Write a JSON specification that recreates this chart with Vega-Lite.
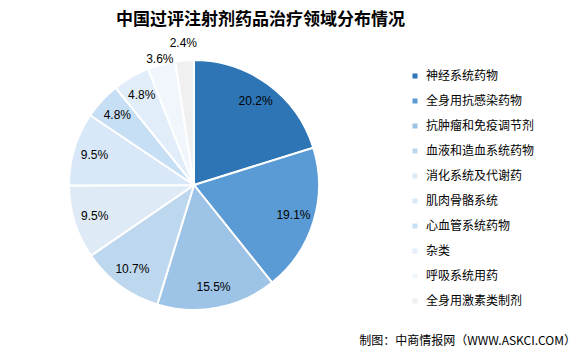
{
  "$schema": "https://vega.github.io/schema/vega-lite/v6.json",
  "background": "white",
  "padding": {"left": 65, "top": 11, "right": 8, "bottom": 8},
  "title": {
    "text": "制图：中商情报网（WWW.ASKCI.COM）",
    "orient": "bottom",
    "anchor": "end",
    "font": "Noto Sans CJK SC",
    "fontSize": 12,
    "fontWeight": "normal",
    "color": "#000000",
    "dx": 41,
    "offset": 22
  },
  "data": {
    "values": [
      {"name": "神经系统药物", "pct": 0.202, "rank": 1},
      {"name": "全身用抗感染药物", "pct": 0.191, "rank": 2},
      {"name": "抗肿瘤和免疫调节剂", "pct": 0.155, "rank": 3},
      {"name": "血液和造血系统药物", "pct": 0.107, "rank": 4},
      {"name": "消化系统及代谢药", "pct": 0.095, "rank": 5},
      {"name": "肌肉骨骼系统", "pct": 0.095, "rank": 6},
      {"name": "心血管系统药物", "pct": 0.048, "rank": 7},
      {"name": "杂类", "pct": 0.048, "rank": 8},
      {"name": "呼吸系统用药", "pct": 0.036, "rank": 9},
      {"name": "全身用激素类制剂", "pct": 0.024, "rank": 10}
    ]
  },
  "vconcat": [
    {
      "width": 250,
      "height": 250,
      "title": {
        "text": "中国过评注射剂药品治疗领域分布情况",
        "font": "Noto Sans CJK SC",
        "fontSize": 17,
        "fontWeight": "bold",
        "color": "#000000",
        "anchor": "start",
        "frame": "group",
        "dx": 47,
        "offset": 8
      },
      "encoding": {
        "theta": {"field": "pct", "type": "quantitative", "stack": true},
        "order": {"field": "rank", "type": "quantitative"}
      },
      "layer": [
        {
          "mark": {"type": "arc", "outerRadius": 125, "stroke": "white", "strokeWidth": 2},
          "encoding": {
            "color": {
              "field": "name",
              "type": "nominal",
              "sort": null,
              "scale": {
                "domain": ["神经系统药物", "全身用抗感染药物", "抗肿瘤和免疫调节剂", "血液和造血系统药物", "消化系统及代谢药", "肌肉骨骼系统", "心血管系统药物", "杂类", "呼吸系统用药", "全身用激素类制剂"],
                "range": ["#2E75B6", "#5B9BD5", "#9DC3E6", "#BDD7EE", "#DEEAF6", "#D9E8F8", "#C6DFF5", "#E1EEFA", "#F0F6FC", "#F0F0F0"]
              },
              "legend": {
                "title": null,
                "orient": "none",
                "legendX": 340,
                "legendY": 10,
                "padding": 0,
                "symbolType": "square",
                "symbolSize": 25,
                "symbolStrokeWidth": 0,
                "labelFont": "Noto Sans CJK SC",
                "labelFontSize": 12,
                "labelColor": "#000000",
                "labelOffset": 5,
                "rowPadding": 13
              }
            }
          }
        },
        {
          "mark": {"type": "text", "font": "Liberation Sans", "fontSize": 12, "color": "#000000"},
          "encoding": {
            "radius": {"field": "pct", "type": "quantitative", "scale": {"type": "linear", "zero": false, "domain": [0.024, 0.036, 0.048], "range": [142, 131, 104], "clamp": true}},
            "text": {"field": "pct", "type": "quantitative", "format": ".1%"}
          }
        }
      ]
    }
  ]
}
